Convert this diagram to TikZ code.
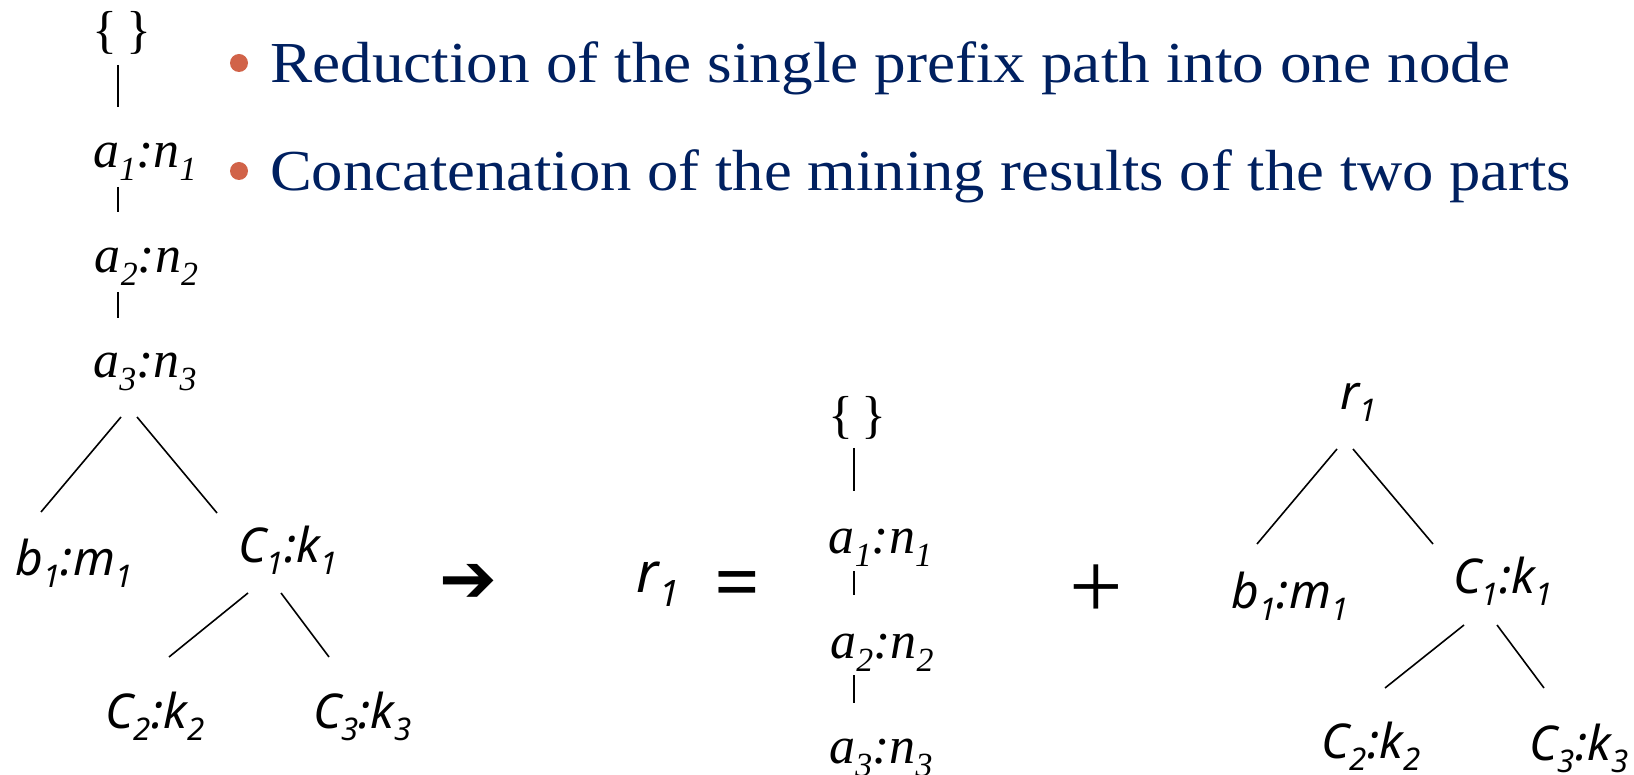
\documentclass[tikz,border=0pt]{standalone}
\usepackage{fontspec}
\usepackage{graphicx}
\setmainfont{Liberation Serif}
\newfontfamily\sansf{Noto Sans}
\newfontfamily\dejavu{DejaVu Sans}
\usetikzlibrary{calc}
\definecolor{navy}{RGB}{0,32,96}
\definecolor{bul}{RGB}{209,99,73}
\newsavebox\fitbox
\newcommand\fitw[2]{\sbox\fitbox{#2}\pgfmathsetmacro\fitsx{#1/\the\wd\fitbox}\scalebox{\fitsx}[1]{\usebox\fitbox}}
\newcommand\lo[1]{\raisebox{-0.25em}{\scalebox{0.65}{#1}}}
\tikzset{
  lab/.style={inner sep=0pt, anchor=base},
  ser/.style={lab, font=\fontsize{52}{62}\selectfont\itshape},
  brace/.style={inner sep=0pt, anchor=center, font=\fontsize{52}{62}\selectfont},
  sanL/.style={lab, font=\fontsize{48}{58}\sansf\itshape},
  sanM/.style={lab, font=\fontsize{56}{66}\sansf\itshape},
  edge/.style={line width=1.6pt, black},
  bullettext/.style={inner sep=0pt, anchor=base west, text=navy, font=\fontsize{58}{70}\selectfont},
  dot/.style={circle, fill=bul, minimum size=18pt, inner sep=0pt},
  sym/.style={inner sep=0pt, anchor=center},
}
\begin{document}
\begin{tikzpicture}[x=1pt,y=-1pt]
\useasboundingbox (0,0) rectangle (1634,775);

% bullet text
\node[dot] (d1) at (239,63) {};
\node[dot] (d2) at (239,171) {};
\node[bullettext] (t1) at (270,83) {\fitw{1240}{Reduction of the single prefix path into one node}};
\node[bullettext] (t2) at (270,191) {\fitw{1301}{Concatenation of the mining results of the two parts}};

% left tree
\node[brace] (L0) at (122,33) {\{\,\}};
\node[ser] (La1) at (145,168) {a\lo{1}:n\lo{1}};
\node[ser] (La2) at (146.5,273) {a\lo{2}:n\lo{2}};
\node[ser] (La3) at (145,378) {a\lo{3}:n\lo{3}};
\node[sanL] (Lb1) at (74,575) {b\lo{1}:m\lo{1}};
\node[sanL] (Lc1) at (288,562) {C\lo{1}:k\lo{1}};
\node[sanL] (Lc2) at (155,728) {C\lo{2}:k\lo{2}};
\node[sanL] (Lc3) at (362.5,728) {C\lo{3}:k\lo{3}};

\draw[edge] ($(L0.center)+(-4,32)$) -- ($(La1.base)+(-27,-61)$);
\draw[edge] ($(La1.base)+(-27,19)$) -- ($(La2.base)+(-28.5,-61)$);
\draw[edge] ($(La2.base)+(-28.5,19)$) -- ($(La3.base)+(-27,-60)$);
\draw[edge] ($(La3.base)+(-24,39)$) -- ($(Lb1.base)+(-33,-63)$);
\draw[edge] ($(La3.base)+(-8,39)$) -- ($(Lc1.base)+(-71,-49)$);
\draw[edge] ($(Lc1.base)+(-40,31)$) -- ($(Lc2.base)+(14,-71)$);
\draw[edge] ($(Lc1.base)+(-7,31)$) -- ($(Lc3.base)+(-33.5,-71)$);

% arrow, equals, plus
\node[sym, font=\fontsize{69}{80}\dejavu\bfseries] (arr) at (468.5,583.5) {➔};
\node[sanM] (r1m) at (658,592) {r\lo{1}};
\node[sym, font=\fontsize{80}{90}\sansf] (eq) at (737.5,591.5) {=};
\node[sym, font=\fontsize{95}{105}\selectfont] (plus) at (1096,591.5) {+};

% middle chain
\node[brace] (M0) at (857.5,417.5) {\{\,\}};
\node[ser] (Ma1) at (880.5,553) {a\lo{1}:n\lo{1}};
\node[ser] (Ma2) at (882,658) {a\lo{2}:n\lo{2}};
\node[ser] (Ma3) at (881,763) {a\lo{3}:n\lo{3}};
\draw[edge] ($(M0.center)+(-3.5,30.5)$) -- ($(Ma1.base)+(-26.5,-62)$);
\draw[edge] ($(Ma1.base)+(-26.5,18)$) -- ($(Ma2.base)+(-28,-63)$);
\draw[edge] ($(Ma2.base)+(-28,17)$) -- ($(Ma3.base)+(-27,-60)$);

% right tree
\node[sanL] (Rr1) at (1359,410) {r\lo{1}};
\node[sanL] (Rb1) at (1290,608) {b\lo{1}:m\lo{1}};
\node[sanL] (Rc1) at (1503,593) {C\lo{1}:k\lo{1}};
\node[sanL] (Rc2) at (1371,758) {C\lo{2}:k\lo{2}};
\node[sanL] (Rc3) at (1579,760) {C\lo{3}:k\lo{3}};
\draw[edge] ($(Rr1.base)+(-22,39)$) -- ($(Rb1.base)+(-33,-64)$);
\draw[edge] ($(Rr1.base)+(-6,39)$) -- ($(Rc1.base)+(-70,-49)$);
\draw[edge] ($(Rc1.base)+(-39,32)$) -- ($(Rc2.base)+(14,-70)$);
\draw[edge] ($(Rc1.base)+(-6,32)$) -- ($(Rc3.base)+(-35,-72)$);
\end{tikzpicture}
\end{document}
